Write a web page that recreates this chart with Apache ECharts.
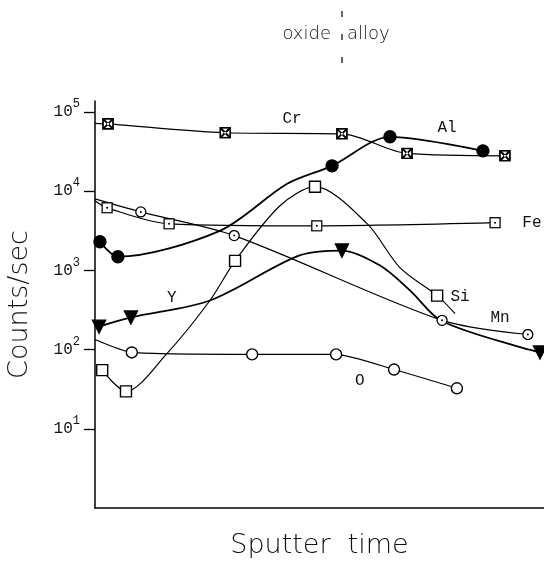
<!DOCTYPE html>
<html>
<head>
<meta charset="utf-8">
<script src="https://cdn.jsdelivr.net/npm/echarts@6/dist/echarts.min.js"></script>
<style>
  html, body { margin: 0; padding: 0; background: #fff; }
  #chart { width: 544px; height: 561px; }
</style>
</head>
<body>
<div id="chart"></div>
<script>
// y轴刻度 (log)
var yTickValues = [10, 100, 1000, 10000, 100000];

// 各元素: 测量点 [时间, counts/sec]，trace = 曲线上无标记的点
var crPoints = [[2.9, 70800], [29.0, 54700], [55.0, 53000], [69.5, 30000], [91.3, 28000]];
var crTrace = [[0, 72000]];
var alPoints = [[1.1, 2300], [5.1, 1490], [52.8, 20900], [65.7, 48600], [86.4, 32300]];
var alTrace = [[27.8, 3160], [42.8, 12400]];
var fePoints = [[2.7, 6170], [16.5, 3870], [49.4, 3650], [89.1, 4000]];
var feTrace = [[0, 7590]];
var mnPoints = [[10.2, 5480], [31.0, 2750], [77.3, 234], [96.4, 155]];
var mnTrace = [[0, 8000]];
var yPoints = [[0.9, 195], [8.0, 255], [55.0, 1780], [99.1, 92]];
var yTrace = [[25.6, 417], [45.4, 1535], [63.5, 1150], [70.2, 556], [77.3, 228]];
var siPoints = [[1.6, 55], [6.9, 29.7], [31.2, 1320], [49.0, 11400], [76.2, 480]];
var siTrace = [[16.0, 89], [25.6, 417], [41.2, 6550], [60.6, 3890], [67.9, 1085], [80.2, 285]];
var oPoints = [[8.2, 92], [35.0, 87], [53.7, 87], [66.6, 56], [80.6, 32.5]];
var oTrace = [[0, 134]];

// 曲线旁边的元素名称
var elementNames = ['Cr', 'Al', 'Fe', 'Mn', 'Y', 'Si', 'O'];
var namePositions = [[43.9, 81500], [78.4, 63000], [97.3, 3990], [90.2, 255], [17.1, 455], [81.3, 468], [59.0, 41]];

function svgSymbol(body) {
    var svg = "<svg xmlns='http://www.w3.org/2000/svg' width='24' height='24' viewBox='0 0 24 24'>" + body + "</svg>";
    return 'image://data:image/svg+xml;charset=utf-8,' + encodeURIComponent(svg);
}
var crossBox = svgSymbol("<rect x='2' y='2' width='20' height='20' fill='#fff' stroke='#000' stroke-width='3.5'/><path d='M3 3L21 21M21 3L3 21' stroke='#000' stroke-width='4'/><circle cx='12' cy='12' r='2.2' fill='#fff'/>");
var dotBox = svgSymbol("<rect x='2' y='2' width='20' height='20' fill='#fff' stroke='#000' stroke-width='2.6'/><circle cx='12' cy='12' r='2' fill='#000'/>");
var dotCircle = svgSymbol("<circle cx='12' cy='12' r='10' fill='#fff' stroke='#000' stroke-width='2.6'/><circle cx='12' cy='12' r='2' fill='#000'/>");

// 合并测量点和trace点，按时间排序
function buildData(points, trace) {
    var list = [];
    for (var i = 0; i < points.length; i++) {
        list.push({ value: points[i] });
    }
    for (var j = 0; j < trace.length; j++) {
        list.push({ value: trace[j], symbol: 'none' });
    }
    list.sort(function(a, b) { return a.value[0] - b.value[0]; });
    return list;
}

function makeSeries(idx, points, trace, symbol, size, fill, width, extra) {
    var s = {
        name: elementNames[idx],
        type: 'line',
        data: buildData(points, trace),
        smooth: 0.3,
        symbol: symbol,
        symbolSize: size,
        showAllSymbol: true,
        itemStyle: { color: fill, borderColor: '#000', borderWidth: 1.4 },
        lineStyle: { color: '#000', width: width },
        z: 3,
        markPoint: {
            symbol: 'circle',
            symbolSize: 0,
            silent: true,
            label: {
                show: true,
                position: 'inside',
                formatter: elementNames[idx],
                color: '#111',
                fontFamily: 'Liberation Mono',
                fontSize: 16
            },
            data: [{ coord: namePositions[idx] }]
        }
    };
    if (extra) {
        for (var k in extra) s[k] = extra[k];
    }
    return s;
}

var chart = echarts.init(document.getElementById('chart'));
var option = {
    animation: false,
    backgroundColor: '#fff',
    grid: { left: 95, right: 0, top: 101, bottom: 53, outerBoundsMode: 'none' },
    xAxis: {
        type: 'value',
        min: 0,
        max: 100,
        name: 'Sputter  time',
        nameLocation: 'middle',
        nameGap: 24,
        nameMoveOverlap: false,
        nameTextStyle: { fontFamily: 'DejaVu Sans', fontWeight: 200, fontSize: 27, color: '#111' },
        axisLine: { lineStyle: { color: '#000', width: 1.5 } },
        axisTick: { show: false },
        axisLabel: { show: false },
        splitLine: { show: false }
    },
    yAxis: {
        type: 'log',
        logBase: 10,
        min: 1,
        max: 137700,
        name: 'Counts/sec',
        nameLocation: 'middle',
        nameGap: 62,
        nameMoveOverlap: false,
        nameTextStyle: { fontFamily: 'DejaVu Sans', fontWeight: 200, fontSize: 27, color: '#111' },
        axisLine: { show: true, lineStyle: { color: '#000', width: 1.5 } },
        axisTick: { show: true, length: 11, customValues: yTickValues, lineStyle: { color: '#000', width: 1.3 } },
        axisLabel: {
            show: true,
            margin: 15,
            customValues: yTickValues,
            formatter: function(v) {
                return '{b|10}{s|' + Math.round(Math.log10(v)) + '}';
            },
            rich: {
                b: { fontFamily: 'Liberation Mono', fontSize: 16, color: '#111', lineHeight: 28 },
                s: { fontFamily: 'Liberation Mono', fontSize: 12, color: '#111', lineHeight: 10, verticalAlign: 'top' }
            }
        },
        splitLine: { show: false }
    },
    graphic: [
        { type: 'line', shape: { x1: 342, y1: 11, x2: 342, y2: 64 }, style: { stroke: '#000', lineWidth: 1.2, lineDash: [6, 17] } },
        { type: 'text', x: 331, y: 34, style: { text: 'oxide', align: 'right', verticalAlign: 'middle', fontFamily: 'DejaVu Sans', fontWeight: 200, fontSize: 18, fill: '#111' } },
        { type: 'text', x: 347, y: 34, style: { text: 'alloy', align: 'left', verticalAlign: 'middle', fontFamily: 'DejaVu Sans', fontWeight: 200, fontSize: 18, fill: '#111' } }
    ],
    series: [
        makeSeries(0, crPoints, crTrace, crossBox, 12, '#000', 1.2),
        makeSeries(1, alPoints, alTrace, 'circle', 12, '#000', 1.8),
        makeSeries(2, fePoints, feTrace, dotBox, 12, '#fff', 1.2),
        makeSeries(3, mnPoints, mnTrace, dotCircle, 12, '#fff', 1.2),
        makeSeries(4, yPoints, yTrace, 'triangle', 13, '#000', 1.8, { symbolRotate: 180 }),
        makeSeries(5, siPoints, siTrace, 'rect', 11, '#fff', 1.2),
        makeSeries(6, oPoints, oTrace, 'circle', 11, '#fff', 1.2, { smooth: 0.2 })
    ]
};
chart.setOption(option);
</script>
</body>
</html>
